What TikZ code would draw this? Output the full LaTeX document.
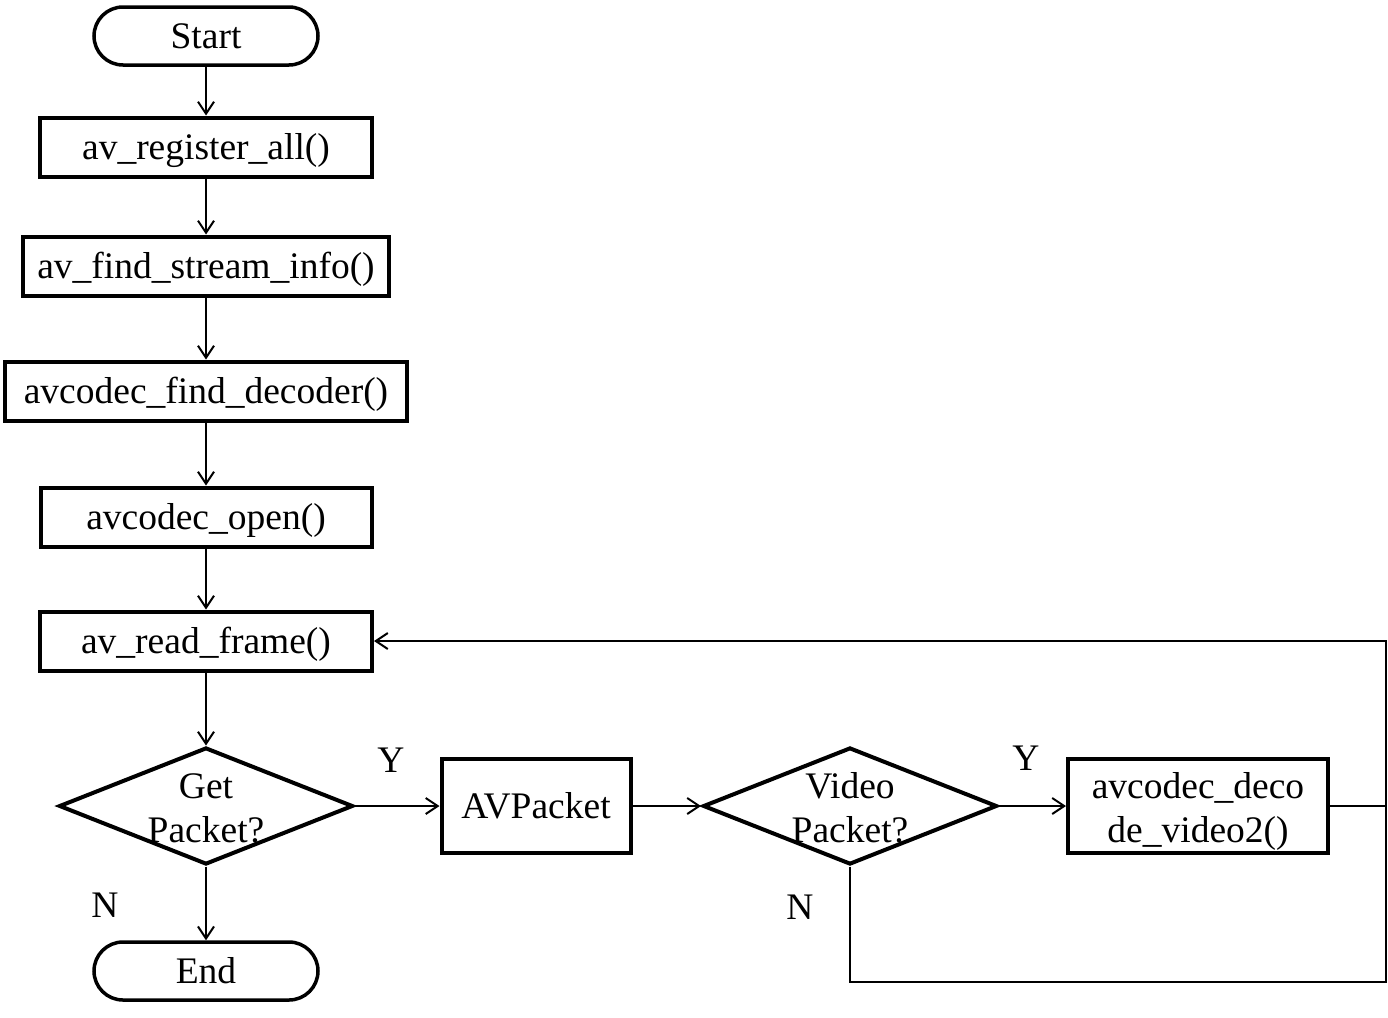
\documentclass[tikz,border=0pt]{standalone}
\usepackage{fontspec}
\setmainfont{Liberation Serif}
\usetikzlibrary{shapes.geometric,arrows.meta}
\begin{document}
\begin{tikzpicture}[x=1pt,y=-1pt,
  every node/.style={font=\fontsize{37.5}{44}\selectfont},
  one/.style={text height=31pt,text depth=7pt},
  proc/.style={draw,line width=4pt,rectangle,minimum height=59pt,inner sep=0pt,anchor=center},
  pill/.style={draw,line width=3.5pt,rectangle,rounded corners=29pt,minimum width=224pt,minimum height=58pt,inner sep=0pt,one},
  dec/.style={draw,line width=4pt,diamond,minimum width=294pt,minimum height=117pt,inner sep=0pt},
  conn/.style={line width=2pt,-{Straight Barb[length=12pt,width=16pt,line width=2pt]}},
  plain/.style={line width=2pt},
  lbl/.style={inner sep=0pt}]
\useasboundingbox (0,0) rectangle (1388,1017);
\node[pill] (start) at (206,36) {Start};
\node[proc,one,minimum width=332pt] (reg) at (206,147) {av\_register\_all()};
\node[proc,one,minimum width=366pt] (find) at (206,266) {av\_find\_stream\_info()};
\node[proc,one,minimum width=402pt] (fdec) at (206,391) {avcodec\_find\_decoder()};
\node[proc,one,minimum width=331pt] (open) at (206,517) {avcodec\_open()};
\node[proc,one,minimum width=332pt] (read) at (206,641) {av\_read\_frame()};
\node[dec,label={[align=center,inner sep=0pt,yshift=-2pt]center:Get\\Packet?}] (get) at (206,806) {};
\node[pill] (end) at (206,971) {End};
\node[proc,one,minimum width=189pt,minimum height=94pt] (avp) at (536,806) {AVPacket};
\node[dec,label={[align=center,inner sep=0pt,yshift=-2pt]center:Video\\Packet?}] (vid) at (850,806) {};
\node[proc,minimum width=260pt,minimum height=94pt,label={[align=center,inner sep=0pt,yshift=-5pt]center:avcodec\_deco\\de\_video2()}] (dcd) at (1198,806) {};
\coordinate (c1) at (1386,641);
\coordinate (c2) at (1386,982);
\draw[conn] (start) -- (reg);
\draw[conn] (reg) -- (find);
\draw[conn] (find) -- (fdec);
\draw[conn] (fdec) -- (open);
\draw[conn] (open) -- (read);
\draw[conn] (read) -- (get.north);
\draw[conn] (get.south) -- (end);
\draw[conn] (get.east) -- (avp.west);
\draw[conn] (avp.east) -- (vid.west);
\draw[conn] (vid.east) -- (dcd.west);
\draw[conn] (dcd.east) -| (c1) -- (read.east);
\draw[plain] (vid.south) |- (c2) -- (c1);
\node[lbl] (y1) at (391,760) {Y};
\node[lbl] (n1) at (105,905) {N};
\node[lbl] (y2) at (1026,758) {Y};
\node[lbl] (n2) at (800,907) {N};
\end{tikzpicture}
\end{document}
